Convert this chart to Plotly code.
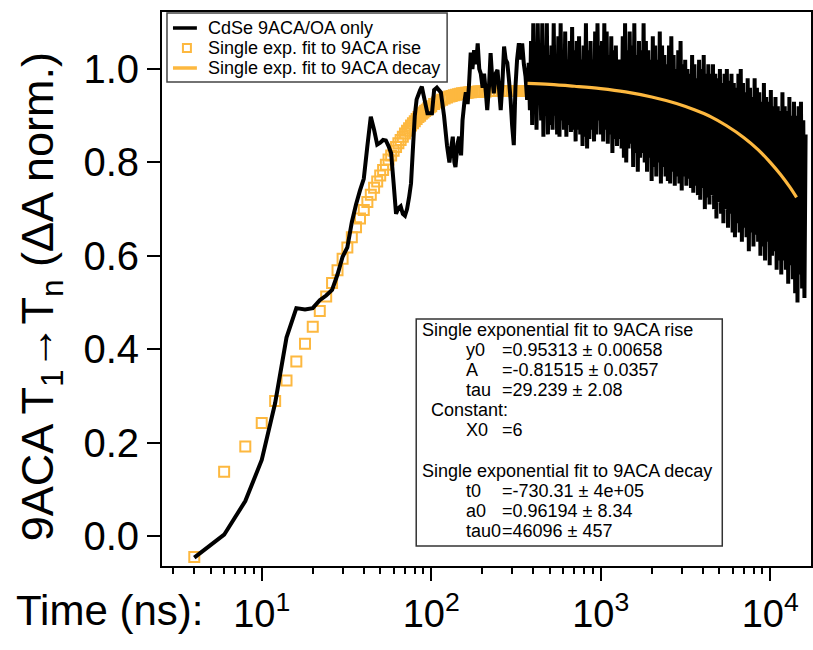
import math
import plotly.graph_objects as go

# ---------------- data ----------------
# measured kinetic trace (CdSe 9ACA/OA only)
t_early = [4, 6, 8, 10, 12, 14, 16, 18, 20, 22, 24, 26, 28, 30, 32, 34, 36, 38, 40, 42,
           44, 46, 48, 50, 52, 54, 56, 58, 60, 62, 64, 66, 68, 70, 72, 74, 76, 78, 80, 82,
           84, 86, 88]
y_early = [-0.046, 0.003, 0.075, 0.163, 0.285, 0.425, 0.488, 0.485, 0.488, 0.505, 0.515,
           0.527, 0.560, 0.598, 0.618, 0.672, 0.710, 0.740, 0.765, 0.835, 0.898, 0.870,
           0.838, 0.842, 0.848, 0.847, 0.835, 0.820, 0.755, 0.690, 0.702, 0.706, 0.690,
           0.686, 0.700, 0.725, 0.755, 0.830, 0.900, 0.935, 0.945, 0.955, 0.962]

t_mid = [90, 95, 101, 104, 108, 114, 119, 124, 128, 131, 134, 137, 139, 143, 146, 150, 153,
         157, 160, 164, 167, 171, 175, 179, 184, 188, 192, 196, 201, 205, 210, 214, 219, 224,
         229, 234, 240, 246, 251, 257, 263, 269, 275, 281, 287, 294, 300, 307, 314, 321, 329,
         336, 344, 352, 360, 368]
y_mid = [0.945, 0.905, 0.905, 0.955, 0.960, 0.950, 0.900, 0.835, 0.800, 0.830, 0.855, 0.800,
         0.790, 0.840, 0.855, 0.815, 0.890, 0.930, 0.950, 0.925, 0.965, 1.035, 1.000, 1.040,
         1.010, 1.055, 1.000, 0.990, 0.960, 0.990, 0.950, 0.912, 0.960, 1.034, 0.980, 0.948,
         0.990, 0.998, 0.960, 0.912, 0.970, 1.048, 1.020, 1.013, 0.980, 0.934, 0.880, 0.837,
         0.962, 1.020, 1.055, 1.020, 1.055, 1.010, 0.984, 0.934]

t_late = [376, 382, 388, 394, 400, 406, 412, 418, 425, 431, 438, 445, 452, 459, 466, 473,
          481, 488, 496, 504, 512, 520, 528, 536, 545, 553, 562, 571, 580, 589, 598, 607,
          617, 627, 637, 647, 657, 667, 678, 689, 700, 711, 722, 733, 745, 757, 769, 781,
          793, 805, 818, 831, 844, 857, 871, 885, 899, 913, 927, 942, 957, 972, 987, 1002,
          1018, 1034, 1050, 1067, 1084, 1101, 1118, 1136, 1154, 1172, 1190, 1209, 1228,
          1247, 1267, 1287, 1308, 1328, 1349, 1370, 1392, 1414, 1437, 1459, 1482, 1506,
          1530, 1554, 1578, 1603, 1629, 1655, 1681, 1707, 1734, 1762, 1790, 1818, 1847,
          1876, 1906, 1936, 1966, 1997, 2029, 2061, 2094, 2127, 2161, 2195, 2230, 2265,
          2301, 2337, 2374, 2412, 2450, 2489, 2528, 2568, 2609, 2650, 2692, 2735, 2778,
          2822, 2867, 2912, 2958, 3005, 3053, 3101, 3150, 3200, 3251, 3302, 3354, 3407,
          3461, 3516, 3572, 3629, 3686, 3744, 3804, 3864, 3925, 3987, 4051, 4115, 4180,
          4246, 4314, 4382, 4451, 4522, 4594, 4667, 4740, 4815, 4892, 4969, 5048, 5128,
          5209, 5292, 5376, 5461, 5547, 5635, 5725, 5815, 5907, 6001, 6096, 6193, 6291,
          6390, 6491, 6594, 6699, 6805, 6913, 7022, 7134, 7247, 7362, 7479, 7597, 7718,
          7840, 7964, 8091, 8219, 8349, 8482, 8616, 8753, 8892, 9033, 9176, 9322, 9469,
          9620, 9772, 9927, 10084, 10244, 10407, 10572, 10739, 10910, 11083, 11258, 11437,
          11618, 11803, 11990, 12180, 12373, 12570, 12769, 12971, 13177, 13386, 13598,
          13814, 14033, 14256, 14482, 14711, 14944, 15181, 15422, 15667, 15915, 16168]
y_late = [1.013, 0.912, 1.060, 0.880, 1.098, 0.905, 1.040, 0.870, 1.098, 0.940,
          1.020, 0.890, 1.098, 0.855, 1.050, 0.900, 1.098, 0.860, 1.030, 0.880,
          1.050, 0.870, 1.098, 0.900, 1.030, 0.860, 1.070, 0.855, 1.098, 0.890,
          1.040, 0.870, 1.080, 0.855, 1.020, 0.880, 1.060, 0.865, 1.090, 0.870,
          1.040, 0.845, 1.060, 0.870, 1.070, 0.860, 1.020, 0.835, 1.050, 0.855,
          1.098, 0.830, 1.040, 0.850, 1.060, 0.870, 1.020, 0.845, 1.080, 0.860,
          1.098, 0.890, 1.050, 0.860, 1.060, 0.845, 1.098, 0.870, 1.080, 0.840,
          1.030, 0.860, 1.070, 0.820, 1.040, 0.850, 1.050, 0.835, 1.020, 0.850,
          1.020, 0.830, 1.070, 0.810, 1.098, 0.800, 1.040, 0.830, 1.080, 0.840,
          1.050, 0.790, 1.098, 0.820, 1.030, 0.780, 1.060, 0.810, 1.040, 0.820,
          1.098, 0.800, 1.060, 0.780, 1.040, 0.810, 1.020, 0.760, 1.070, 0.790,
          1.050, 0.770, 1.020, 0.800, 1.080, 0.755, 1.050, 0.790, 1.030, 0.770,
          1.010, 0.760, 1.050, 0.755, 1.070, 0.780, 1.030, 0.750, 1.000, 0.770,
          1.040, 0.755, 1.060, 0.740, 1.010, 0.770, 1.020, 0.750, 1.000, 0.765,
          0.990, 0.745, 1.030, 0.735, 1.010, 0.750, 0.980, 0.730, 1.020, 0.720,
          1.000, 0.745, 1.030, 0.700, 0.990, 0.725, 1.010, 0.710, 0.990, 0.730,
          1.010, 0.700, 0.990, 0.680, 0.980, 0.715, 1.000, 0.690, 0.970, 0.670,
          0.990, 0.700, 1.000, 0.660, 0.975, 0.690, 0.990, 0.650, 0.970, 0.640,
          0.960, 0.670, 0.990, 0.650, 1.000, 0.630, 0.970, 0.660, 0.950, 0.640,
          0.980, 0.610, 0.960, 0.650, 0.940, 0.620, 0.980, 0.645, 0.960, 0.630,
          0.950, 0.600, 0.930, 0.620, 0.970, 0.590, 0.940, 0.630, 0.930, 0.580,
          0.955, 0.600, 0.920, 0.610, 0.940, 0.570, 0.920, 0.590, 0.910, 0.560,
          0.950, 0.590, 0.920, 0.570, 0.910, 0.540, 0.940, 0.580, 0.900, 0.550,
          0.930, 0.520, 0.900, 0.500, 0.920, 0.560, 0.930, 0.530, 0.890, 0.510,
          0.860]

# single exponential fit to 9ACA rise (markers)
t_rise = [4, 6, 8, 10, 12, 14, 16, 18, 20, 22, 24, 26, 28, 30, 32, 34, 36, 38, 40, 42, 44,
          46, 48, 50, 52, 54, 56, 58, 60, 62, 64, 66, 68, 70, 72, 74, 76, 78, 80, 82, 84,
          86, 88, 90, 92, 94, 96, 98, 100, 104, 108, 112, 116, 120, 124, 128, 132, 136,
          140, 144, 148, 152, 156, 160, 164, 168, 172, 176, 180, 184, 188, 192, 196, 200,
          210, 220, 230, 240, 250, 260, 270, 280, 290, 300, 310, 320, 330, 340, 350, 360, 370]
y_rise = [-0.045, 0.138, 0.192, 0.242, 0.289, 0.333, 0.374, 0.412, 0.448, 0.482, 0.513,
          0.542, 0.569, 0.594, 0.618, 0.640, 0.661, 0.680, 0.698, 0.715, 0.731, 0.746,
          0.759, 0.772, 0.784, 0.795, 0.806, 0.815, 0.825, 0.833, 0.841, 0.848, 0.855,
          0.862, 0.868, 0.873, 0.879, 0.884, 0.888, 0.893, 0.897, 0.900, 0.904, 0.907,
          0.910, 0.913, 0.916, 0.918, 0.920, 0.925, 0.928, 0.931, 0.934, 0.937, 0.939,
          0.941, 0.942, 0.944, 0.945, 0.946, 0.947, 0.948, 0.948, 0.949, 0.949, 0.950,
          0.950, 0.951, 0.951, 0.951, 0.952, 0.952, 0.952, 0.952, 0.952, 0.953, 0.953,
          0.953, 0.953, 0.953, 0.953, 0.953, 0.953, 0.953, 0.953, 0.953, 0.953, 0.953,
          0.953, 0.953, 0.953]

# single exponential fit to 9ACA decay (line)
t_decay = [370, 500, 700, 1000, 1400, 2000, 2800, 3600, 4500, 5500, 7000, 8500, 10000,
           11500, 13000, 14300]
y_decay = [0.969, 0.967, 0.963, 0.958, 0.951, 0.940, 0.926, 0.912, 0.897, 0.879, 0.853,
           0.827, 0.800, 0.774, 0.748, 0.725]

x_major = [10, 100, 1000, 10000]
x_major_text = ["10<sup>1</sup>", "10<sup>2</sup>", "10<sup>3</sup>", "10<sup>4</sup>"]
x_minor = [3, 4, 5, 6, 7, 8, 9, 20, 30, 40, 50, 60, 70, 80, 90, 200, 300, 400, 500, 600,
           700, 800, 900, 2000, 3000, 4000, 5000, 6000, 7000, 8000, 9000]
y_ticks = [0.0, 0.2, 0.4, 0.6, 0.8, 1.0]

legend_names = ["CdSe 9ACA/OA only", "Single exp. fit to 9ACA rise",
                "Single exp. fit to 9ACA decay"]

fit_lines = [
    ("head", "Single exponential fit to 9ACA rise", ""),
    ("par", "y0", "=0.95313 ± 0.00658"),
    ("par", "A", "=-0.81515 ± 0.0357"),
    ("par", "tau", "=29.239 ± 2.08"),
    ("const", "Constant:", ""),
    ("par", "X0", "=6"),
    ("head", "Single exponential fit to 9ACA decay", ""),
    ("par", "t0", "=-730.31 ± 4e+05"),
    ("par", "a0", "=0.96194 ± 8.34"),
    ("par", "tau0", "=46096 ± 457"),
]
fit_rows_py = [330, 350, 370, 390, 410, 430, 471, 491, 511, 531]

# ---------------- figure ----------------
FONT = "Liberation Sans, Arial, sans-serif"
ORANGE = "#FDB83F"
W, H = 813, 650
L, R, T, B = 162, 0, 12, 84
pw, ph = W - L - R, H - T - B


def px2x(px):
    return (px - L) / pw


def py2y(py):
    return (H - B - py) / ph


t_data = t_early + t_mid + t_late
y_data = y_early + y_mid + y_late

fig = go.Figure()
fig.add_trace(go.Scatter(
    x=t_rise, y=y_rise, mode="markers", name=legend_names[1],
    marker=dict(symbol="square-open", size=10, color=ORANGE, line=dict(width=2, color=ORANGE))))
fig.add_trace(go.Scatter(
    x=t_data, y=y_data, mode="lines", name=legend_names[0],
    line=dict(color="black", width=4, simplify=False)))
fig.add_trace(go.Scatter(
    x=t_decay, y=y_decay, mode="lines", name=legend_names[2],
    line=dict(color=ORANGE, width=3.2, shape="spline")))

fig.update_layout(
    width=W, height=H,
    margin=dict(l=L, r=R, t=T, b=B),
    paper_bgcolor="white", plot_bgcolor="white",
    font=dict(family=FONT, color="black"),
    showlegend=False,
)

fig.update_xaxes(
    type="log", range=[math.log10(2.58), math.log10(17400)],
    tickmode="array", tickvals=x_major, ticktext=x_major_text,
    ticks="outside", ticklen=13, tickwidth=2, tickcolor="black",
    tickfont=dict(size=38, family=FONT),
    showline=True, linecolor="black", linewidth=2, mirror=True,
    showgrid=False, zeroline=False,
    minor=dict(ticks="outside", ticklen=6, tickwidth=1.5, tickcolor="black",
               tickvals=x_minor, showgrid=False),
)
fig.update_yaxes(
    range=[-0.064, 1.122],
    tickmode="array", tickvals=y_ticks, ticktext=[f"{v:.1f}" for v in y_ticks],
    ticks="outside", ticklen=13, tickwidth=2, tickcolor="black",
    tickfont=dict(size=40, family=FONT),
    showline=True, linecolor="black", linewidth=2, mirror=True,
    showgrid=False, zeroline=False,
)

ann = []
shapes = []
# axis titles
ann.append(dict(xref="paper", yref="paper", x=px2x(40), y=py2y(297), textangle=-90,
                text="9ACA T<sub>1</sub>→T<sub>n</sub> (ΔA norm.)", showarrow=False,
                font=dict(size=45, family=FONT), xanchor="center", yanchor="middle"))
ann.append(dict(xref="paper", yref="paper", x=px2x(14), y=py2y(610),
                text="Time (ns):", showarrow=False,
                font=dict(size=42, family=FONT), xanchor="left", yanchor="middle"))

# legend (drawn by hand to match the compact original box)
shapes.append(dict(type="rect", xref="paper", yref="paper",
                   x0=px2x(167), x1=px2x(448), y0=py2y(82), y1=py2y(13),
                   line=dict(color="#444", width=1.5), fillcolor="white", layer="above"))
leg_rows = [28, 48, 68]
shapes.append(dict(type="line", xref="paper", yref="paper",
                   x0=px2x(173), x1=px2x(197), y0=py2y(leg_rows[0]), y1=py2y(leg_rows[0]),
                   line=dict(color="black", width=3.5), layer="above"))
shapes.append(dict(type="rect", xref="paper", yref="paper",
                   x0=px2x(183), x1=px2x(191), y0=py2y(52), y1=py2y(44),
                   line=dict(color=ORANGE, width=2), fillcolor="rgba(0,0,0,0)", layer="above"))
shapes.append(dict(type="line", xref="paper", yref="paper",
                   x0=px2x(173), x1=px2x(197), y0=py2y(leg_rows[2]), y1=py2y(leg_rows[2]),
                   line=dict(color=ORANGE, width=3.5), layer="above"))
for name, py in zip(legend_names, leg_rows):
    ann.append(dict(xref="paper", yref="paper", x=px2x(206), y=py2y(py), text=name,
                    showarrow=False, xanchor="left", yanchor="middle",
                    font=dict(size=18, family=FONT)))

# fit results box
shapes.append(dict(type="rect", xref="paper", yref="paper",
                   x0=px2x(417), x1=px2x(724), y0=py2y(546), y1=py2y(319),
                   line=dict(color="#333", width=1.5), fillcolor="white", layer="above"))
for (kind, lab, val), py in zip(fit_lines, fit_rows_py):
    if kind == "head":
        ann.append(dict(xref="paper", yref="paper", x=px2x(421), y=py2y(py), text=lab,
                        showarrow=False, xanchor="left", yanchor="middle",
                        font=dict(size=18, family=FONT)))
    elif kind == "const":
        ann.append(dict(xref="paper", yref="paper", x=px2x(430), y=py2y(py), text=lab,
                        showarrow=False, xanchor="left", yanchor="middle",
                        font=dict(size=18, family=FONT)))
    else:
        ann.append(dict(xref="paper", yref="paper", x=px2x(465), y=py2y(py), text=lab,
                        showarrow=False, xanchor="left", yanchor="middle",
                        font=dict(size=18, family=FONT)))
        ann.append(dict(xref="paper", yref="paper", x=px2x(501), y=py2y(py), text=val,
                        showarrow=False, xanchor="left", yanchor="middle",
                        font=dict(size=18, family=FONT)))
fig.update_layout(annotations=ann, shapes=shapes)

fig.write_html("out.html")
